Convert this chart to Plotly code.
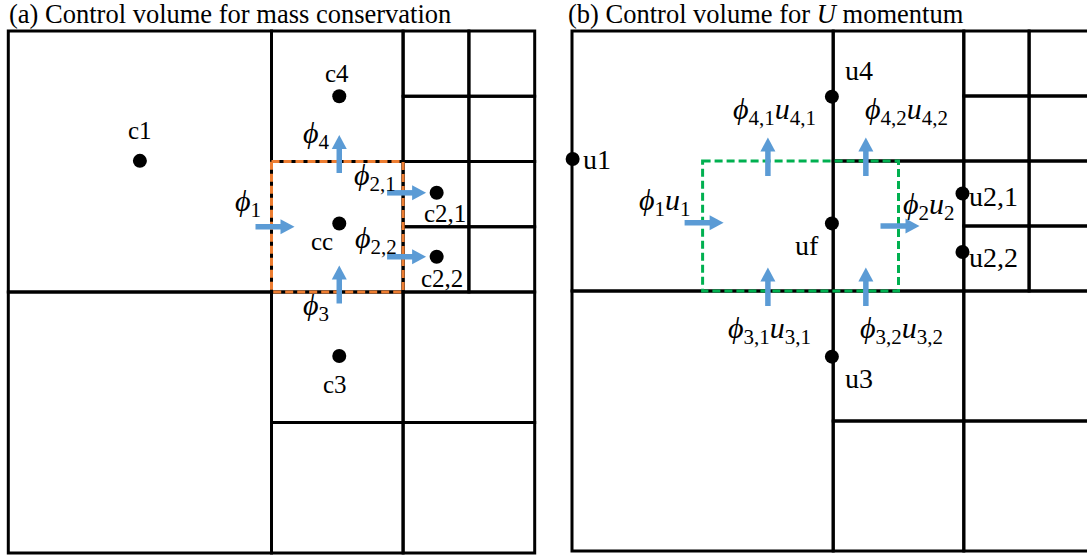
import plotly.graph_objects as go

W, H = 1087, 557

# ---------------- data ----------------
# quadtree mesh leaf cells (shared by both panels), in cell units: left, top, size
cell_x0 = [0, 0, 4, 4, 6, 7, 6, 7, 6, 7, 6, 7, 4, 6, 4, 6]
cell_y0 = [0, 4, 0, 2, 0, 0, 1, 1, 2, 2, 3, 3, 4, 4, 6, 6]
cell_size = [4, 4, 2, 2, 1, 1, 1, 1, 1, 1, 1, 1, 2, 2, 2, 2]

# panel (a): cell centres
a_pt_name = ["c1", "c4", "cc", "c2,1", "c2,2", "c3"]
a_pt_x = [2.0, 5.03, 5.03, 6.51, 6.51, 5.03]
a_pt_y = [1.99, 1.0, 2.95, 2.48, 3.46, 4.98]
# panel (a): control volume (x0, y0, x1, y1)
a_cv = [4, 2, 6, 4]
# panel (a): fluxes (face point + direction)
a_flux_text = ["<i>ϕ</i><sub>1</sub>", "<i>ϕ</i><sub>4</sub>", "<i>ϕ</i><sub>2,1</sub>",
               "<i>ϕ</i><sub>2,2</sub>", "<i>ϕ</i><sub>3</sub>"]
a_flux_x = [4.0, 5.03, 6.0, 6.0, 5.03]
a_flux_y = [3.0, 2.0, 2.48, 3.46, 4.0]
a_flux_dir = ["right", "up", "right", "right", "up"]

# panel (b): face velocities
b_pt_name = ["u1", "u4", "uf", "u2,1", "u2,2", "u3"]
b_pt_x = [0.01, 3.98, 3.98, 5.98, 5.98, 3.98]
b_pt_y = [1.97, 1.01, 2.96, 2.5, 3.4, 5.01]
b_cv = [2, 2, 5, 4]
b_flux_text = ["<i>ϕ</i><sub>1</sub><i>u</i><sub>1</sub>",
               "<i>ϕ</i><sub>2</sub><i>u</i><sub>2</sub>",
               "<i>ϕ</i><sub>4,1</sub><i>u</i><sub>4,1</sub>",
               "<i>ϕ</i><sub>4,2</sub><i>u</i><sub>4,2</sub>",
               "<i>ϕ</i><sub>3,1</sub><i>u</i><sub>3,1</sub>",
               "<i>ϕ</i><sub>3,2</sub><i>u</i><sub>3,2</sub>"]
b_flux_x = [2.0, 5.0, 3.0, 4.5, 3.0, 4.5]
b_flux_y = [2.95, 3.0, 2.0, 2.0, 4.0, 4.0]
b_flux_dir = ["right", "right", "up", "up", "up", "up"]

titles = ["(a) Control volume for mass conservation",
          "(b) Control volume for <i>U</i> momentum"]

# ---------------- layout / style ----------------
SERIF = "Liberation Serif"
BLUE = "#5B9BD5"
PANELS = {
    "a": dict(x0=8.3, y0=31.0, sx=65.8, sy=65.25, xa="x", ya="y",
              cv_color="#ED7D31", pt_font=25,
              arrow_h=(16, 23), arrow_v=(11.5, 26.5),
              lab_off=[(0, -30, "center"), (-2, -23, "center"), (-17, 18, "center"),
                       (8, 21, "center"), (5, 22, "center"), (-4, 29, "center")],
              flux_off=[(-23.5, -24), (-23, -26.5), (-28, -16), (-27.5, -17), (-23, 15)]),
    "b": dict(x0=572.0, y0=31.0, sx=65.3, sy=65.0, xa="x2", ya="y2",
              cv_color="#00B050", pt_font=28,
              arrow_h=(18, 21), arrow_v=(15, 23.5),
              lab_off=[(8.3, 0, "left"), (11.3, -25.7, "left"), (-24.7, 21.7, "center"),
                       (4.3, 3, "left"), (4.3, 5.3, "left"), (11.3, 22.3, "left")],
              flux_off=[(-37.6, -21), (30.5, -20), (7, -50), (40.6, -50), (2, 39), (35.6, 39)]),
}
FLUX_FONT = 30
HEAD_LEN, HEAD_HALF, SHAFT_W = 14, 7.5, 5.5

data = {
    "a": (a_pt_name, a_pt_x, a_pt_y, a_cv, a_flux_text, a_flux_x, a_flux_y, a_flux_dir),
    "b": (b_pt_name, b_pt_x, b_pt_y, b_cv, b_flux_text, b_flux_x, b_flux_y, b_flux_dir),
}

fig = go.Figure()
shapes, annotations = [], []

for key, p in PANELS.items():
    names, px_, py_, cv, ftext, fx, fy, fdir = data[key]
    xa, ya = p["xa"], p["ya"]

    def to_px(ux, uy):
        return p["x0"] + ux * p["sx"], p["y0"] + uy * p["sy"]

    def to_u(X, Y):
        return (X - p["x0"]) / p["sx"], (Y - p["y0"]) / p["sy"]

    # mesh
    for x0, y0, s in zip(cell_x0, cell_y0, cell_size):
        shapes.append(dict(type="rect", xref=xa, yref=ya, x0=x0, y0=y0, x1=x0 + s, y1=y0 + s,
                           line=dict(color="black", width=3), layer="below"))
    # control volume
    shapes.append(dict(type="rect", xref=xa, yref=ya, x0=cv[0], y0=cv[1], x1=cv[2], y1=cv[3],
                       line=dict(color=p["cv_color"], width=3, dash="8px,4px"), layer="below"))
    # flux arrows
    for i, (t, ux, uy, d) in enumerate(zip(ftext, fx, fy, fdir)):
        X, Y = to_px(ux, uy)
        if d == "right":
            dx, dy = 1, 0
            back, ahead = p["arrow_h"]
        else:
            dx, dy = 0, -1
            back, ahead = p["arrow_v"]
        tail = (X - back * dx, Y - back * dy)
        tip = (X + ahead * dx, Y + ahead * dy)
        base = (tip[0] - HEAD_LEN * dx, tip[1] - HEAD_LEN * dy)
        ta, ba = to_u(*tail), to_u(base[0] + 1 * dx, base[1] + 1 * dy)
        shapes.append(dict(type="line", xref=xa, yref=ya, x0=ta[0], y0=ta[1], x1=ba[0], y1=ba[1],
                           line=dict(color=BLUE, width=SHAFT_W), layer="below"))
        pxn, pyn = -dy, dx
        c1 = to_u(base[0] + HEAD_HALF * pxn, base[1] + HEAD_HALF * pyn)
        c2 = to_u(base[0] - HEAD_HALF * pxn, base[1] - HEAD_HALF * pyn)
        c0 = to_u(*tip)
        path = f"M {c0[0]},{c0[1]} L {c1[0]},{c1[1]} L {c2[0]},{c2[1]} Z"
        shapes.append(dict(type="path", xref=xa, yref=ya, path=path, fillcolor=BLUE,
                           line=dict(color=BLUE, width=0), layer="below"))
        ox, oy = p["flux_off"][i]
        annotations.append(dict(xref=xa, yref=ya, x=ux, y=uy, text=t, showarrow=False,
                                xanchor="center", yanchor="middle", xshift=ox, yshift=-oy,
                                font=dict(family=SERIF, size=FLUX_FONT, color="black")))
    # points
    fig.add_trace(go.Scatter(x=px_, y=py_, mode="markers", xaxis=xa, yaxis=ya,
                             marker=dict(size=14, color="black"), hoverinfo="skip",
                             showlegend=False))
    for i, (n, ux, uy) in enumerate(zip(names, px_, py_)):
        ox, oy, anc = p["lab_off"][i]
        annotations.append(dict(xref=xa, yref=ya, x=ux, y=uy, text=n, showarrow=False,
                                xanchor=anc, yanchor="middle", xshift=ox, yshift=-oy,
                                font=dict(family=SERIF, size=p["pt_font"], color="black")))

# titles
for t, xpix in zip(titles, [7, 566]):
    annotations.append(dict(xref="paper", yref="paper", x=xpix / W, y=1 - 14 / H, text=t,
                            showarrow=False, xanchor="left", yanchor="middle",
                            font=dict(family=SERIF, size=26.5, color="black")))

def ax_common():
    return dict(visible=False, showgrid=False, zeroline=False, domain=[0, 1], fixedrange=True)

pa, pb = PANELS["a"], PANELS["b"]
fig.update_layout(
    width=W, height=H, margin=dict(l=0, r=0, t=0, b=0),
    paper_bgcolor="white", plot_bgcolor="rgba(0,0,0,0)",
    font=dict(family=SERIF),
    xaxis=dict(**ax_common(), range=[-pa["x0"] / pa["sx"], (W - pa["x0"]) / pa["sx"]], anchor="y"),
    yaxis=dict(**ax_common(), range=[(H - pa["y0"]) / pa["sy"], -pa["y0"] / pa["sy"]], anchor="x"),
    xaxis2=dict(**ax_common(), range=[-pb["x0"] / pb["sx"], (W - pb["x0"]) / pb["sx"]], anchor="y2"),
    yaxis2=dict(**ax_common(), range=[(H - pb["y0"]) / pb["sy"], -pb["y0"] / pb["sy"]], anchor="x2"),
    shapes=shapes, annotations=annotations, showlegend=False,
)

fig.write_html("out.html")
